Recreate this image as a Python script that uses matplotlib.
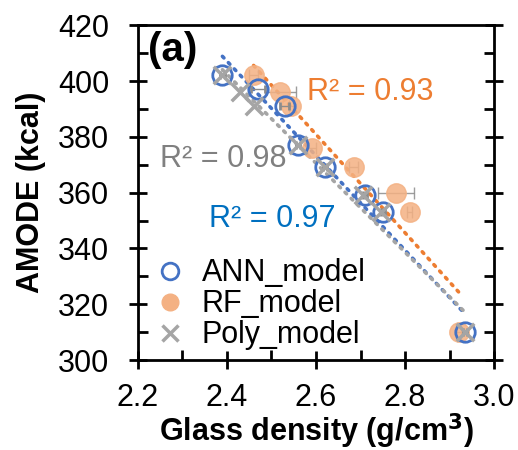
import matplotlib
matplotlib.use("Agg")
import matplotlib.pyplot as plt
from matplotlib.ticker import MultipleLocator
from matplotlib.lines import Line2D
import numpy as np

plt.rcParams['font.family'] = ['Liberation Sans', 'DejaVu Sans']

# data
ann_x = [2.39, 2.47, 2.53, 2.56, 2.62, 2.71, 2.75, 2.935]
ann_y = [402, 397, 391, 377, 369, 359, 353, 310]
ann_xerr = [0.005, 0.015, 0.01, 0.005, 0.005, 0.005, 0.005, 0.005]

rf_x = [2.46, 2.52, 2.545, 2.59, 2.685, 2.78, 2.81, 2.92]
rf_y = [402, 396, 391, 376, 369, 360, 353, 310]
rf_xerr = [0.01, 0.035, 0.005, 0.01, 0.01, 0.04, 0.005, 0.005]

poly_x = [2.39, 2.43, 2.46, 2.56, 2.62, 2.705, 2.745, 2.935]
poly_y = [402, 396, 391, 377, 369, 359, 353, 310]

r2_labels = ['R² = 0.97', 'R² = 0.93', 'R² = 0.98']

blue = '#4472C4'
orange = '#ED7D31'
orange_fill = '#F4B183'
gray = '#A5A5A5'

fig = plt.figure(figsize=(5.18, 4.5), dpi=100)
ax = fig.add_axes([0.266, 0.2, 0.688, 0.744])

# trend lines (linear fits)
for xs, ys, c in [(ann_x, ann_y, blue), (rf_x, rf_y, orange), (poly_x, poly_y, gray)]:
    k, b = np.polyfit(xs, ys, 1)
    xx = np.array([min(xs), max(xs)])
    ax.plot(xx, k * xx + b, linestyle=(0, (0.6, 1.8)), dash_capstyle='round',
            color=c, lw=2.6, zorder=2)

ax.errorbar(rf_x, rf_y, xerr=rf_xerr, fmt='o', ms=14, mfc=orange_fill, mec=orange_fill,
            alpha=0.85, ecolor='#8C8C8C', elinewidth=1, capsize=4, zorder=3)
ax.errorbar(ann_x, ann_y, xerr=ann_xerr, fmt='o', ms=14, mfc='none', mec=blue, mew=2,
            ecolor='#8C8C8C', elinewidth=1, capsize=3, zorder=4)
ax.scatter(poly_x, poly_y, marker='x', s=160, color=gray, linewidths=2.5, zorder=5)

ax.text(2.224, 411, '(a)', fontsize=29, fontweight='bold', va='center')
ax.text(2.58, 396, r2_labels[1], color=orange, fontsize=22, va='center')
ax.text(2.25, 372, r2_labels[2], color='#808080', fontsize=22, va='center')
ax.text(2.36, 350.5, r2_labels[0], color='#0070C0', fontsize=22, va='center')

ax.set_xlim(2.2, 3.0)
ax.set_ylim(300, 420)
ax.xaxis.set_minor_locator(MultipleLocator(0.1))
ax.yaxis.set_major_locator(MultipleLocator(20))
ax.yaxis.set_minor_locator(MultipleLocator(10))
ax.set_xticks(np.arange(2.2, 3.01, 0.2))
ax.set_xticklabels(['2.2', '2.4', '2.6', '2.8', '3.0'])
ax.tick_params(which='major', direction='inout', length=13, width=2, labelsize=22,
               left=True, right=True, bottom=True, top=False)
ax.tick_params(which='minor', direction='in', length=7, width=2,
               left=True, right=True, bottom=True, top=False)
ax.tick_params(axis='x', which='major', pad=10)
ax.tick_params(axis='y', which='major', pad=14)
for s in ax.spines.values():
    s.set_linewidth(2)

ax.set_xlabel('Glass density (g/cm$^\\mathbf{3}$)', fontsize=22, fontweight='bold',
              labelpad=-1)
ax.set_ylabel('AMODE (kcal)', fontsize=22, fontweight='bold', labelpad=9)

handles = [
    Line2D([], [], ls='none', marker='o', ms=12, mfc='none', mec=blue, mew=2),
    Line2D([], [], ls='none', marker='o', ms=12, mfc=orange_fill, mec=orange_fill),
    Line2D([], [], ls='none', marker='x', ms=11, mec=gray, mew=2.5),
]
ax.legend(handles, ['ANN_model', 'RF_model', 'Poly_model'], loc='lower left',
          bbox_to_anchor=(0.03, 0.02), frameon=False, fontsize=22,
          handletextpad=0.45, labelspacing=0.03, borderaxespad=0.0,
          handlelength=1.2, borderpad=0.1)

fig.savefig('out.png', dpi=100)
